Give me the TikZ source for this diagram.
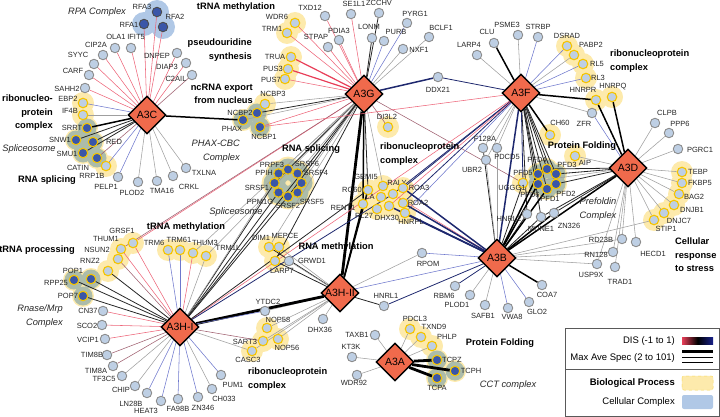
\documentclass[tikz,border=0pt]{standalone}
\usepackage{fontspec}
\setmainfont{Liberation Sans}
\usetikzlibrary{shapes.geometric}
\definecolor{hubfill}{RGB}{240,106,76}
\definecolor{nodefill}{RGB}{190,207,228}
\definecolor{nodeedge}{RGB}{140,140,140}
\definecolor{ringgold}{RGB}{245,196,0}
\definecolor{darkfill}{RGB}{58,86,168}
\definecolor{procfill}{RGB}{253,234,172}
\definecolor{cplxfill}{RGB}{176,200,230}
\definecolor{cplxmix}{RGB}{172,188,170}
\definecolor{disred}{RGB}{232,62,88}
\definecolor{disnavy}{RGB}{30,40,110}
\definecolor{disblue}{RGB}{110,120,205}
\definecolor{disbrown}{RGB}{135,55,75}
\def\lgray{gray!75}
\pgfdeclarelayer{blobs}
\pgfdeclarelayer{links}
\pgfsetlayers{blobs,links,main}

\begin{document}
\begin{tikzpicture}[
    x=1pt, y=-1pt,
    hub/.style={
      diamond, draw=black, line width=1.4pt, fill=hubfill, minimum size=38pt,
      inner sep=0pt, font=\fontsize{10.5}{11}\selectfont
    },
    gnode/.style={circle, draw=nodeedge, line width=0.9pt, fill=nodefill, minimum size=9.5pt, inner sep=0pt},
    ynode/.style={gnode, draw=ringgold, line width=1.1pt},
    dnode/.style={ynode, fill=darkfill},
    bnode/.style={gnode, draw=gray!60!black, fill=darkfill},
    lbl/.style={font=\fontsize{7.5}{8}\selectfont, inner sep=0pt, text=black!85},
    head/.style={font=\bfseries\fontsize{9.3}{13.5}\selectfont, inner sep=0pt, align=center},
    cplx/.style={font=\itshape\fontsize{9.3}{13.5}\selectfont, inner sep=0pt, align=center, text=black!85},
    legtext/.style={font=\fontsize{9.5}{11}\selectfont, inner sep=0pt, anchor=east},
    redlink/.style={disred!80, line width=0.55pt},
    redthick/.style={disred, line width=1.2pt},
    brownlink/.style={disbrown!80, line width=0.55pt},
    bluelink/.style={disblue, line width=0.55pt},
    navylink/.style={disnavy, line width=0.8pt},
    navythick/.style={disnavy, line width=1.5pt},
    greylink/.style={\lgray, line width=0.55pt},
    blacklink/.style={black!85, line width=0.8pt},
    blackthick/.style={black, line width=1.5pt},
    blackheavy/.style={black, line width=2.8pt},
    procblob/.style={procfill},
    cplxblob/.style={cplxmix}
  ]
    \useasboundingbox (0,0) rectangle (720,417);

    \def\hubs{
      A3C/147/115/A3C, A3G/364/94/A3G, A3F/521/93/A3F, A3D/628/168/A3D,
      A3B/497/258/A3B, A3HII/340/293/A3H-II, A3HI/180/327/A3H-I, A3A/395/362/A3A
    }
    \foreach \n / \x / \y / \t in \hubs {
      \node[hub] (\n) at (\x,\y) {\t};
    }

    \def\proteins{
      RFA3/157/12/bnode/142/7, RFA1/144/24/bnode/129/25, RFA2/163/27/bnode/175/17,
      OLA1/115/48/gnode/116/37, IFIT5/131/48/gnode/136/37, CIP2A/103/55/gnode/96/45,
      SYYC/94/64/gnode/78/55, CARF/89/75/gnode/73/71, SAHH2/85/88/gnode/67/89,
      EBP2/83/103/ynode/68/99, IF4B/83/115/ynode/70/111, SRRT/87/128/dnode/72/128,
      SNW1/76/140/dnode/60/140, RED/93/142/dnode/114/142, SMU1/83/153/dnode/67/154,
      CATIN/97/158/dnode/78/168, RRP1B/106/166/ynode/92/176, PELP1/118/177/gnode/106/187,
      PLOD2/138/182/gnode/132/193, TMA16/157/181/gnode/162/191, CRKL/173/176/gnode/189/187,
      TXLNA/186/168/gnode/204/173, DNPEP/177/53/gnode/157/56, DIAP3/186/63/gnode/167/67,
      C2AIL/192/75/gnode/176/79,
      WDR6/295/23/ynode/277/17, TRM1/287/33/ynode/272/29, TXD12/325/16/gnode/310/8,
      SE1L1/351/14/gnode/354/4, ZCCHV/379/13/gnode/379/3, PYRG1/407/23/gnode/415/14,
      BCLF1/429/37/gnode/441/28, PDIA3/339/40/gnode/339/31, LONM/372/38/gnode/369/27,
      STPAP/328/47/gnode/316/37, PURB/384/41/gnode/396/32, NXF1/403/49/gnode/419/50,
      TRUA/291/57/ynode/275/57, PUS3/288/69/ynode/273/69, PUS7/285/79/ynode/271/80,
      DDX21/438/77/gnode/438/90, NCBP3/265/104/ynode/273/94, NCBP2/257/113/dnode/240/113,
      PHAX/243/120/dnode/232/129, NCBP1/260/127/dnode/264/137, DI3L2/388/127/ynode/387/117,
      LARP4/477/55/gnode/469/45, CLU/494/43/gnode/487/32, PSME3/518/35/gnode/507/25,
      STRBP/538/37/gnode/538/27, DSRAD/567/46/ynode/567/36, PABP2/574/55/ynode/591/45,
      RL5/583/64/ynode/597/64, RL3/586/78/ynode/598/78, HNRPR/596/100/ynode/583/90,
      HNRPQ/612/97/ynode/613/87, ZFR/592/113/gnode/584/124, CH60/550/135/ynode/560/123,
      F128A/483/148/gnode/485/139, PDCD5/497/148/gnode/507/157, UBR2/486/160/gnode/472/170,
      CLPB/655/123/gnode/667/113, PPP6/669/133/gnode/680/124, PGRC1/678/149/gnode/700/150,
      AIP/575/156/ynode/585/163, UGGG1/523/183/ynode/512/188,
      PFD4/547/169/dnode/537/160, PFD3/556/174/dnode/567/165, PFD2/556/184/dnode/566/194,
      PFD1/547/189/dnode/550/199, PFD6/538/184/dnode/530/195, PFD5/538/174/dnode/523/173,
      TEBP/682/172/ynode/698/172, FKBP5/682/183/ynode/700/183, BAG2/679/194/ynode/694/197,
      DNJB1/674/205/ynode/692/210, DNJC7/664/213/ynode/679/221, STIP1/654/220/ynode/666/229,
      HNRL2/527/214/gnode/509/219, MUNE1/541/217/gnode/541/229, ZN326/554/213/gnode/569/226,
      RD23B/622/239/gnode/601/240, HECD1/636/242/gnode/653/254, RN128/613/252/gnode/596/255,
      USP9X/597/264/gnode/591/275, TRAD1/615/267/gnode/620/282,
      RBM6/455/286/gnode/444/296, PLOD1/470/295/gnode/457/305, SAFB1/485/305/gnode/483/316,
      VWA8/508/308/gnode/512/317, GLO2/529/302/gnode/537/312, COA7/542/285/gnode/547/295,
      HNRL1/384/306/gnode/386/296, RPOM/422/253/gnode/428/264,
      SRSF6/297.5/173.5/dnode/307/164, PRPF3/288/169.5/dnode/272/165, PPIH/278.5/173.5/dnode/264/173,
      SRSF1/274.5/183/dnode/257/188, PPM1G/278.5/192.5/dnode/260/202, SRSF2/288/196.5/dnode/288/206,
      SRSF5/297.5/192.5/dnode/312/202, SRSF4/301.5/183/dnode/316/173,
      RO60/368/190/ynode/352/190, GEMI5/383/186/ynode/366/177, RALY/393/194/ynode/397/183,
      ROA3/403/188/ynode/419/188, LA/381/197/ynode/370/197, RENT1/363/204/ynode/343/208,
      RL27/377/209/ynode/364/216, DHX30/389/206/ynode/387/218, ROA2/403/203/ynode/418/203,
      HNRPL/405/213/ynode/411/222,
      DIM1/269/247/ynode/261/238, MEPCE/279/247/ynode/285/236, LARP7/275/261/ynode/282/271,
      GRWD1/289/261/gnode/312/261,
      GRSF1/133/243/ynode/122/231, THUM1/121/249/ynode/106/239, NSUN2/118/259/ynode/97/250,
      RNZ2/108/271/ynode/90/261, POP1/91/279/dnode/73/271, RPP25/74/280/dnode/56/283,
      POP7/83/296/dnode/68/296, TRM6/168/250/ynode/154/243, TRM61/180/250/ynode/179/240,
      THUM3/193/253/ynode/205/243, TRM1L/206/256/ynode/228/248,
      CN37/103/311/gnode/88/311, SCO2/102/325/gnode/87/326, VCIP1/105/339/gnode/88/340,
      TIM8B/107/355/gnode/92/355, TIM8A/113/366/gnode/96/371, TF3C5/122/376/gnode/104/379,
      CHIP/135/386/gnode/121/390, LN28B/147/393/gnode/131/404, HEAT3/161/401/gnode/146/411,
      FA98B/178/399/gnode/178/409, ZN346/198/397/gnode/203/408, CH033/212/389/gnode/224/399,
      PUM1/221/375/gnode/233/385,
      YTDC2/265/311/gnode/268/302, NOP58/267/328/ynode/278/320, SART3/263/341/ynode/245/342,
      NOP56/278/339/ynode/287/348, CASC3/252/351/ynode/248/360, DHX36/323/319/gnode/320/330,
      TAXB1/375/335/gnode/357/335, KT3K/352/357/gnode/351/347, WDR92/357/375/gnode/354/383,
      PDCL3/410/329/ynode/415/319, TXND9/421/337/ynode/434/327, PHLP/432/346/ynode/447/337,
      TCPZ/437/360/dnode/452/360, TCPH/455/371/dnode/471/371, TCPA/437/378/dnode/437/388
    }
    \foreach \n / \x / \y / \k / \lx / \ly in \proteins {
      \node[\k] (\n) at (\x,\y) {};
      \node[lbl] (\n-l) at (\lx,\ly) {\n};
    }

    \begin{pgfonlayer}{blobs}
      \foreach \n in {WDR6,TRM1,TRUA,PUS3,PUS7,DI3L2,NCBP3,NCBP2,PHAX,NCBP1,
                      EBP2,IF4B,SRRT,SNW1,RED,SMU1,CATIN,RRP1B,DSRAD,PABP2,RL5,RL3,HNRPR,HNRPQ,
                      CH60,AIP,UGGG1,PFD1,PFD2,PFD3,PFD4,PFD5,PFD6,TEBP,FKBP5,BAG2,DNJB1,DNJC7,STIP1,
                      RO60,GEMI5,RALY,ROA3,LA,RENT1,RL27,DHX30,ROA2,HNRPL,DIM1,MEPCE,LARP7,
                      GRSF1,THUM1,NSUN2,RNZ2,POP1,RPP25,POP7,TRM6,TRM61,THUM3,TRM1L,
                      NOP58,SART3,NOP56,CASC3,PDCL3,TXND9,PHLP,TCPZ,TCPH,TCPA}
        \fill[procblob] (\n) circle (11pt);
      \foreach \n in {PRPF3,SRSF6,SRSF4,SRSF1,SRSF2,SRSF5,PPIH,PPM1G}
        \fill[procblob] (\n) circle (13pt);
      \foreach \n in {NCBP2,PHAX,NCBP1,SRRT,SNW1,RED,SMU1,CATIN,PFD1,PFD2,PFD3,PFD4,PFD5,PFD6,
                      POP1,RPP25,POP7,TCPZ,TCPH,TCPA}
        \fill[cplxblob] (\n) circle (9.5pt);
      \foreach \n in {PRPF3,SRSF6,SRSF4,SRSF1,SRSF2,SRSF5,PPIH,PPM1G}
        \fill[cplxblob] (\n) circle (11pt);
      \foreach \n in {RFA1,RFA2,RFA3}
        \fill[cplxfill] (\n) circle (12pt);
    \end{pgfonlayer}

    \begin{pgfonlayer}{links}
      \foreach \t / \s in {
        RFA1/redlink, RFA2/redlink, RFA3/redlink, OLA1/redlink, IFIT5/redlink, CIP2A/redlink,
        SYYC/redlink, CARF/redlink, SAHH2/redlink, DNPEP/redlink, DIAP3/redlink,
        C2AIL/brownlink, CATIN/brownlink, EBP2/bluelink, RRP1B/bluelink, PELP1/bluelink,
        IF4B/greylink, PLOD2/greylink, TMA16/greylink, CRKL/greylink, TXLNA/greylink,
        SNW1/blacklink, RED/blacklink, SMU1/blacklink, SRRT/blackthick, PHAX/blackthick}
        \draw[\s] (A3C) -- (\t);
      \foreach \t / \s in {
        WDR6/redlink, TRM1/redlink, TXD12/redlink, SE1L1/redlink, PDIA3/redlink, STPAP/redlink,
        PUS7/redlink, NCBP1/redlink, GRSF1/redlink, TRUA/redthick, PUS3/redthick,
        ZCCHV/blacklink, LONM/blacklink, NCBP2/blacklink, PYRG1/bluelink, PURB/bluelink,
        BCLF1/greylink, NXF1/greylink, NCBP3/greylink, PHAX/greylink, DDX21/navythick,
        DI3L2/brownlink, UGGG1/brownlink, PRPF3/greylink, SRSF6/greylink, SRSF4/greylink,
        PPIH/greylink, SRSF1/blacklink, SRSF2/blacklink, RO60/blacklink, RENT1/blackthick,
        GEMI5/greylink, A3HI/blacklink, LARP7/blacklink, THUM1/brownlink, THUM3/greylink,
        TRM1L/greylink, DIM1/greylink, A3HII/blackheavy}
        \draw[\s] (A3G) -- (\t);
      \foreach \t / \s in {
        CLU/blackthick, HNRPR/blackthick, CH60/blackthick, PSME3/greylink, PABP2/greylink,
        LARP4/greylink, ZFR/greylink, F128A/greylink, PDCD5/greylink, UBR2/greylink,
        STRBP/bluelink, DSRAD/bluelink, RL5/bluelink, RL3/bluelink, DDX21/navylink,
        PFD4/blacklink, PFD3/blacklink, PFD2/blacklink, PFD1/blacklink, PFD6/blacklink,
        PFD5/blacklink, HNRL2/blacklink, MUNE1/blacklink, UGGG1/navylink, RALY/navylink,
        ROA3/navylink, ROA2/navylink, HNRPL/bluelink, NCBP1/redlink, DHX30/redlink,
        A3HI/redlink, A3B/navythick}
        \draw[\s] (A3F) -- (\t);
      \foreach \t / \s in {
        CLPB/greylink, PPP6/greylink, PGRC1/greylink, AIP/greylink, TEBP/greylink,
        FKBP5/greylink, BAG2/greylink, DNJB1/greylink, DNJC7/greylink, STIP1/greylink,
        RD23B/greylink, HECD1/greylink, RN128/greylink, USP9X/greylink, TRAD1/greylink,
        UGGG1/greylink, ZFR/bluelink, PFD3/blacklink, PFD2/blacklink, PFD4/blacklink,
        ZN326/blacklink, MUNE1/blacklink, HNRPR/blackthick, HNRPQ/blackthick, A3B/blackthick}
        \draw[\s] (A3D) -- (\t);
      \foreach \t / \s in {
        UGGG1/blacklink, HNRL2/blacklink, MUNE1/blacklink, F128A/blacklink, PDCD5/greylink,
        UBR2/greylink, PLOD1/greylink, SAFB1/greylink, RD23B/greylink, RN128/greylink,
        USP9X/greylink, STIP1/greylink, RBM6/navylink, HNRL1/navylink, VWA8/bluelink,
        GLO2/bluelink, RPOM/bluelink, A3HI/bluelink, RALY/redlink, PFD5/blackthick,
        PFD6/blackthick, PFD1/blackthick, ZN326/blackthick, COA7/blackthick,
        ROA3/navythick, ROA2/navythick, HNRPL/navythick, DHX30/navythick}
        \draw[\s] (A3B) -- (\t);
      \foreach \t / \s in {
        LARP7/blacklink, HNRL1/blacklink, DIM1/blacklink, MEPCE/greylink, GRWD1/greylink,
        YTDC2/greylink, NOP58/greylink, NOP56/greylink, SART3/greylink, CASC3/greylink,
        DHX36/greylink, RPOM/greylink, RO60/blackthick, RENT1/blackthick, A3HI/blackheavy}
        \draw[\s] (A3HII) -- (\t);
      \foreach \t / \s in {
        CN37/redlink, SCO2/redlink, VCIP1/redlink, THUM1/redlink, THUM3/redlink, GRSF1/redlink,
        NSUN2/brownlink, TIM8B/brownlink, TIM8A/brownlink, SART3/brownlink,
        RNZ2/blacklink, POP1/blacklink, RPP25/blacklink, POP7/blacklink, SRSF1/blacklink,
        SRSF2/blacklink, PPM1G/blacklink, RO60/blacklink, TF3C5/greylink, CHIP/greylink,
        CH033/greylink, TRM1L/greylink, CASC3/greylink, PPIH/greylink, LN28B/bluelink,
        HEAT3/bluelink, FA98B/bluelink, ZN346/bluelink, PUM1/bluelink, TRM6/bluelink,
        TRM61/bluelink, YTDC2/bluelink, RALY/navylink}
        \draw[\s] (A3HI) -- (\t);
      \foreach \t / \s in {
        TAXB1/greylink, KT3K/greylink, WDR92/greylink, PDCL3/greylink, TXND9/greylink,
        PHLP/greylink, TCPZ/blackheavy, TCPH/blackheavy, TCPA/blackheavy}
        \draw[\s] (A3A) -- (\t);
    \end{pgfonlayer}

    \node[head] (h-trnameth) at (236,7) {tRNA methylation};
    \node[head, align=right, anchor=east] (h-pseudo) at (252,50) {pseudouridine\\synthesis};
    \node[head, align=right, anchor=east] (h-ncrna) at (253,94) {ncRNA export\\from nucleus};
    \node[head, align=right, anchor=east] (h-rnpleft) at (53,113) {ribonucleo-\\protein\\complex};
    \node[head] (h-splleft) at (47,180) {RNA splicing};
    \node[head] (h-splmid) at (311,149) {RNA splicing};
    \node[head, align=left, anchor=west] (h-rnpmid) at (380,154) {ribonucleoprotein\\complex};
    \node[head, align=left, anchor=west] (h-rnpright) at (610,61) {ribonucleoprotein\\complex};
    \node[head] (h-foldtop) at (582,146) {Protein Folding};
    \node[head, align=left, anchor=west] (h-stress) at (675,255) {Cellular\\response\\to stress};
    \node[head] (h-trnamid) at (186,227) {tRNA methylation};
    \node[head] (h-trnaproc) at (37,250) {tRNA processing};
    \node[head] (h-rnameth) at (336,247) {RNA methylation};
    \node[head, align=left, anchor=west] (h-rnpbot) at (248,379) {ribonucleoprotein\\complex};
    \node[head] (h-foldbot) at (500,343) {Protein Folding};

    \node[cplx] (c-rpa) at (97,12) {RPA Complex};
    \node[cplx] (c-splleft) at (29,149) {Spliceosome};
    \node[cplx, align=right, anchor=east] (c-phax) at (240,151) {PHAX-CBC\\Complex};
    \node[cplx] (c-splmid) at (236,212) {Spliceosome};
    \node[cplx, align=right, anchor=east] (c-rnase) at (63,316) {Rnase/Mrp\\Complex};
    \node[cplx] (c-prefoldin) at (598,209) {Prefoldin\\Complex};
    \node[cplx] (c-cct) at (508,385) {CCT complex};

    \draw[line width=0.8pt, draw=gray!70!black, fill=white] (565,328) rectangle (719,416);
    \draw[line width=0.8pt, draw=gray!70!black] (565,369) -- (719,369);
    \node[legtext] (leg-dis) at (675,341) {DIS (-1 to 1)};
    \node[legtext] (leg-spec) at (675,358) {Max Ave Spec (2 to 101)};
    \node[legtext, font=\bfseries\fontsize{9.5}{11}\selectfont] (leg-proc) at (675,383) {Biological Process};
    \node[legtext] (leg-cplx) at (675,402) {Cellular Complex};
    \shade[left color=disred, right color=disnavy!80!blue, middle color=black] (682,337) rectangle (713,344);
    \draw[black, line width=3pt] (682,351) -- (713,351);
    \draw[black, line width=1.8pt] (682,357.5) -- (713,357.5);
    \draw[black, line width=0.8pt] (682,362.5) -- (713,362.5);
    \draw[procfill, fill=procfill, rounded corners=2pt] (682,376) rectangle (713,390);
    \draw[ringgold!60, dashed, line width=0.5pt, rounded corners=2pt] (682,376) rectangle (713,390);
    \fill[cplxfill, rounded corners=2pt] (682,395) rectangle (713,409);
  \end{tikzpicture}
\end{document}
